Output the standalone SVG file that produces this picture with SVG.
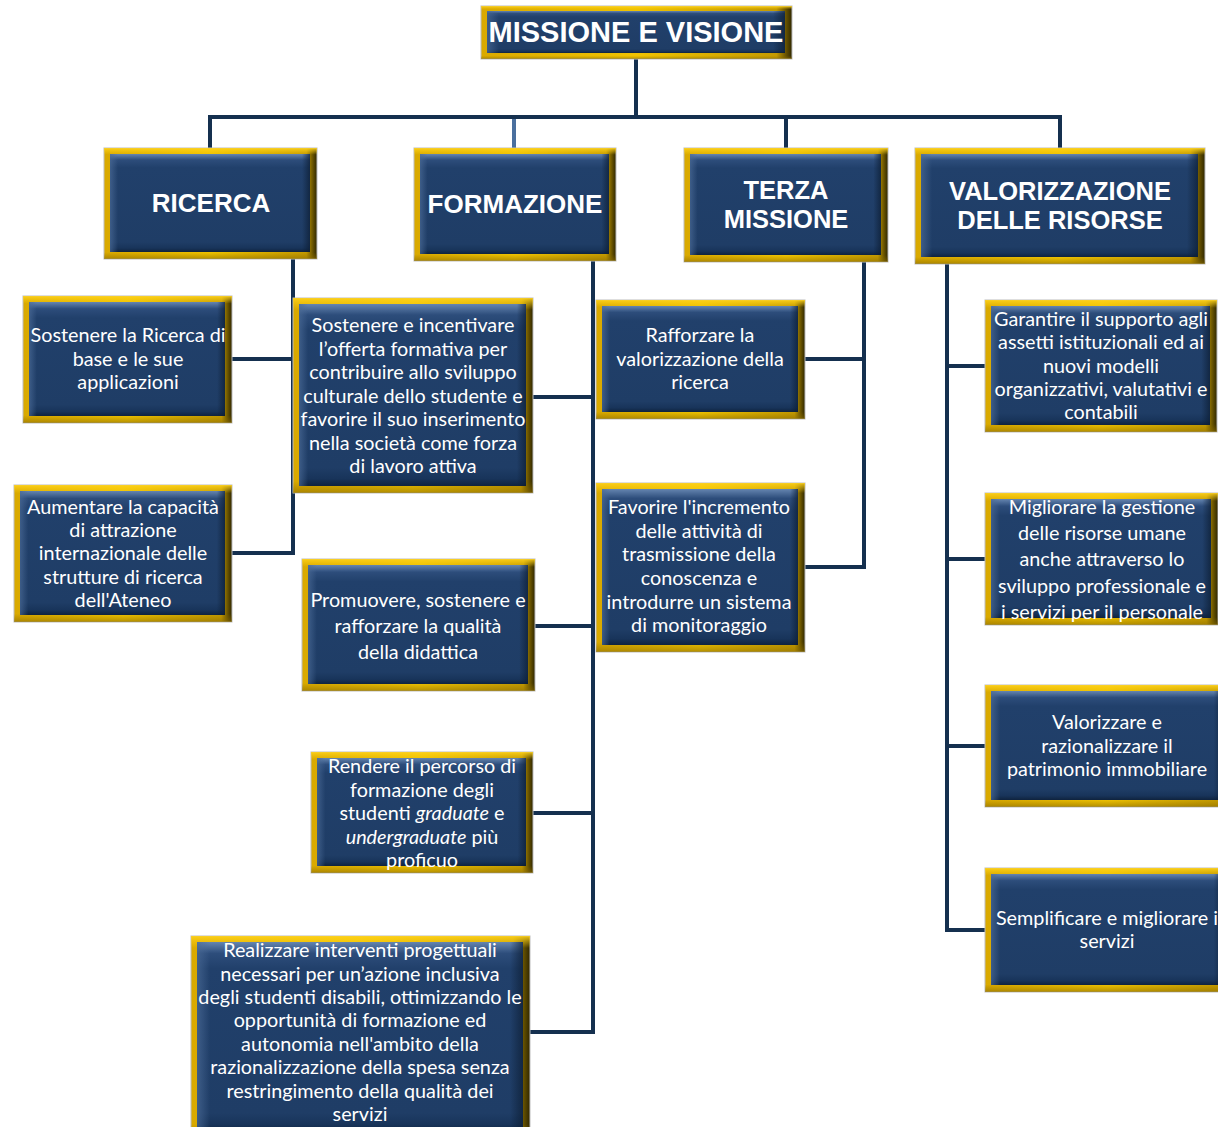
<svg xmlns="http://www.w3.org/2000/svg" width="1218" height="1127" viewBox="0 0 1218 1127">
<defs>
<linearGradient id="gold" x1="0" y1="0" x2="1" y2="0">
<stop offset="0" stop-color="#d9a900"/>
<stop offset="0.5" stop-color="#f0c300"/>
<stop offset="0.95" stop-color="#c49a00"/>
<stop offset="0.985" stop-color="#5a4800"/>
<stop offset="1" stop-color="#2e2600"/>
</linearGradient>
<linearGradient id="goldv" x1="0" y1="0" x2="0" y2="1">
<stop offset="0" stop-color="#ffd21a" stop-opacity="0.9"/>
<stop offset="0.06" stop-color="#ffd21a" stop-opacity="0"/>
<stop offset="0.94" stop-color="#8a6c00" stop-opacity="0"/>
<stop offset="1" stop-color="#8a6c00" stop-opacity="0.6"/>
</linearGradient>
<linearGradient id="blue" x1="0" y1="0" x2="0" y2="1">
<stop offset="0" stop-color="#6585b0"/>
<stop offset="0.06" stop-color="#2d4d7b"/>
<stop offset="0.14" stop-color="#21406b"/>
<stop offset="0.9" stop-color="#1f3d66"/>
<stop offset="0.96" stop-color="#18345a"/>
<stop offset="1" stop-color="#0f233e"/>
</linearGradient>
<linearGradient id="blueh" x1="0" y1="0" x2="1" y2="0">
<stop offset="0" stop-color="#4a6a96" stop-opacity="0.7"/>
<stop offset="0.04" stop-color="#4a6a96" stop-opacity="0"/>
<stop offset="0.96" stop-color="#0c1d33" stop-opacity="0"/>
<stop offset="1" stop-color="#0c1d33" stop-opacity="0.7"/>
</linearGradient>
</defs>
<style>
.frame{fill:url(#gold);stroke:#bdbdbd;stroke-width:1}
.frame2{fill:url(#goldv)}
.face{fill:url(#blue)}
.face2{fill:url(#blueh)}
.hd{font-family:"Liberation Sans",Arial,sans-serif;font-weight:bold;fill:#ffffff;text-anchor:middle}
.tx{font-family:Lato,"Open Sans",sans-serif;font-size:19.8px;fill:#ffffff;text-anchor:middle}
.ln{fill:none;stroke:#15304f;stroke-width:4;stroke-linejoin:miter}
.ln2{fill:none;stroke:#4a6f9e;stroke-width:4}
</style>
<rect width="1218" height="1127" fill="#ffffff"/>

<g id="connectors">
<path class="ln" d="M636 59 V117 M208 117 H1062 M210 117 V148 M786 117 V148 M1060 117 V148"/>
<path class="ln2" d="M514 119 V148"/>
<path class="ln" d="M293 259 V553 H232 M232 359 H293"/>
<path class="ln" d="M593 261 V1032 H530 M533 397 H593 M535 626 H593 M533 813 H593"/>
<path class="ln" d="M864 262 V567 H805 M805 359 H864"/>
<path class="ln" d="M947 264 V930 H985 M947 366 H985 M947 559 H985 M947 746 H985"/>
</g>

<g id="n-missione">
<rect class="frame" x="481" y="6" width="311" height="53"/><rect class="frame2" x="481" y="6" width="311" height="53"/>
<rect class="face" x="487" y="11" width="298" height="42"/><rect class="face2" x="487" y="11" width="298" height="42"/>
<text class="hd" x="636" y="42" font-size="29">MISSIONE E VISIONE</text>
</g>

<g id="n-ricerca">
<rect class="frame" x="104" y="148" width="213" height="111"/><rect class="frame2" x="104" y="148" width="213" height="111"/>
<rect class="face" x="110" y="154" width="200" height="98"/><rect class="face2" x="110" y="154" width="200" height="98"/>
<text class="hd" x="211" y="212" font-size="26">RICERCA</text>
</g>

<g id="n-formazione">
<rect class="frame" x="414" y="148" width="202" height="113"/><rect class="frame2" x="414" y="148" width="202" height="113"/>
<rect class="face" x="420" y="154" width="189" height="100"/><rect class="face2" x="420" y="154" width="189" height="100"/>
<text class="hd" x="515" y="213" font-size="26">FORMAZIONE</text>
</g>

<g id="n-terza">
<rect class="frame" x="684" y="148" width="204" height="114"/><rect class="frame2" x="684" y="148" width="204" height="114"/>
<rect class="face" x="690" y="154" width="191" height="101"/><rect class="face2" x="690" y="154" width="191" height="101"/>
<text class="hd" x="786" y="199" font-size="25.5">TERZA</text>
<text class="hd" x="786" y="228" font-size="25.5">MISSIONE</text>
</g>

<g id="n-valorizzazione">
<rect class="frame" x="915" y="148" width="290" height="116"/><rect class="frame2" x="915" y="148" width="290" height="116"/>
<rect class="face" x="921" y="154" width="277" height="103"/><rect class="face2" x="921" y="154" width="277" height="103"/>
<text class="hd" x="1060" y="200" font-size="25.5">VALORIZZAZIONE</text>
<text class="hd" x="1060" y="229" font-size="25.5">DELLE RISORSE</text>
</g>

<g id="n-ric1">
<rect class="frame" x="23" y="296" width="209" height="127"/><rect class="frame2" x="23" y="296" width="209" height="127"/>
<rect class="face" x="29" y="302" width="196" height="114"/><rect class="face2" x="29" y="302" width="196" height="114"/>
<text class="tx" x="128" y="342">Sostenere la Ricerca di</text>
<text class="tx" x="128" y="366">base e le sue</text>
<text class="tx" x="128" y="389">applicazioni</text>
</g>

<g id="n-ric2">
<rect class="frame" x="14" y="485" width="218" height="137"/><rect class="frame2" x="14" y="485" width="218" height="137"/>
<rect class="face" x="20" y="491" width="205" height="124"/><rect class="face2" x="20" y="491" width="205" height="124"/>
<text class="tx" x="123" y="514">Aumentare la capacità</text>
<text class="tx" x="123" y="537">di attrazione</text>
<text class="tx" x="123" y="560">internazionale delle</text>
<text class="tx" x="123" y="584">strutture di ricerca</text>
<text class="tx" x="123" y="607">dell'Ateneo</text>
</g>

<g id="n-for1">
<rect class="frame" x="293" y="298" width="240" height="195"/><rect class="frame2" x="293" y="298" width="240" height="195"/>
<rect class="face" x="299" y="304" width="227" height="182"/><rect class="face2" x="299" y="304" width="227" height="182"/>
<text class="tx" x="413" y="332">Sostenere e incentivare</text>
<text class="tx" x="413" y="356">l’offerta formativa per</text>
<text class="tx" x="413" y="379">contribuire allo sviluppo</text>
<text class="tx" x="413" y="403">culturale dello studente e</text>
<text class="tx" x="413" y="426">favorire il suo inserimento</text>
<text class="tx" x="413" y="450">nella società come forza</text>
<text class="tx" x="413" y="473">di lavoro attiva</text>
</g>

<g id="n-for2">
<rect class="frame" x="302" y="559" width="233" height="132"/><rect class="frame2" x="302" y="559" width="233" height="132"/>
<rect class="face" x="308" y="565" width="220" height="119"/><rect class="face2" x="308" y="565" width="220" height="119"/>
<text class="tx" x="418" y="607">Promuovere, sostenere e</text>
<text class="tx" x="418" y="633">rafforzare la qualità</text>
<text class="tx" x="418" y="659">della didattica</text>
</g>

<g id="n-for3">
<rect class="frame" x="311" y="752" width="222" height="121"/><rect class="frame2" x="311" y="752" width="222" height="121"/>
<rect class="face" x="317" y="758" width="209" height="108"/><rect class="face2" x="317" y="758" width="209" height="108"/>
<text class="tx" x="422" y="773">Rendere il percorso di</text>
<text class="tx" x="422" y="797">formazione degli</text>
<text class="tx" x="422" y="820">studenti <tspan font-style="italic">graduate</tspan> e</text>
<text class="tx" x="422" y="844"><tspan font-style="italic">undergraduate</tspan> più</text>
<text class="tx" x="422" y="867">proficuo</text>
</g>

<g id="n-for4">
<rect class="frame" x="191" y="936" width="339" height="200"/><rect class="frame2" x="191" y="936" width="339" height="200"/>
<rect class="face" x="197" y="942" width="326" height="190"/><rect class="face2" x="197" y="942" width="326" height="190"/>
<text class="tx" x="360" y="957">Realizzare interventi progettuali</text>
<text class="tx" x="360" y="981">necessari per un’azione inclusiva</text>
<text class="tx" x="360" y="1004">degli studenti disabili, ottimizzando le</text>
<text class="tx" x="360" y="1027">opportunità di formazione ed</text>
<text class="tx" x="360" y="1051">autonomia nell'ambito della</text>
<text class="tx" x="360" y="1074">razionalizzazione della spesa senza</text>
<text class="tx" x="360" y="1098">restringimento della qualità dei</text>
<text class="tx" x="360" y="1121">servizi</text>
</g>

<g id="n-ter1">
<rect class="frame" x="596" y="300" width="209" height="119"/><rect class="frame2" x="596" y="300" width="209" height="119"/>
<rect class="face" x="602" y="306" width="196" height="106"/><rect class="face2" x="602" y="306" width="196" height="106"/>
<text class="tx" x="700" y="342">Rafforzare la</text>
<text class="tx" x="700" y="366">valorizzazione della</text>
<text class="tx" x="700" y="389">ricerca</text>
</g>

<g id="n-ter2">
<rect class="frame" x="596" y="483" width="209" height="169"/><rect class="frame2" x="596" y="483" width="209" height="169"/>
<rect class="face" x="602" y="489" width="196" height="156"/><rect class="face2" x="602" y="489" width="196" height="156"/>
<text class="tx" x="699" y="514">Favorire l'incremento</text>
<text class="tx" x="699" y="538">delle attività di</text>
<text class="tx" x="699" y="561">trasmissione della</text>
<text class="tx" x="699" y="585">conoscenza e</text>
<text class="tx" x="699" y="609">introdurre un sistema</text>
<text class="tx" x="699" y="632">di monitoraggio</text>
</g>

<g id="n-val1">
<rect class="frame" x="985" y="300" width="232" height="132"/><rect class="frame2" x="985" y="300" width="232" height="132"/>
<rect class="face" x="991" y="306" width="219" height="119"/><rect class="face2" x="991" y="306" width="219" height="119"/>
<text class="tx" x="1101" y="326">Garantire il supporto agli</text>
<text class="tx" x="1101" y="349">assetti istituzionali  ed ai</text>
<text class="tx" x="1101" y="373">nuovi  modelli</text>
<text class="tx" x="1101" y="396">organizzativi, valutativi e</text>
<text class="tx" x="1101" y="419">contabili</text>
</g>

<g id="n-val2">
<rect class="frame" x="985" y="493" width="233" height="132"/><rect class="frame2" x="985" y="493" width="233" height="132"/>
<rect class="face" x="991" y="499" width="220" height="119"/><rect class="face2" x="991" y="499" width="220" height="119"/>
<text class="tx" x="1102" y="514">Migliorare la gestione</text>
<text class="tx" x="1102" y="540">delle risorse umane</text>
<text class="tx" x="1102" y="566">anche attraverso lo</text>
<text class="tx" x="1102" y="593">sviluppo professionale e</text>
<text class="tx" x="1102" y="619">i servizi per il personale</text>
</g>

<g id="n-val3">
<rect class="frame" x="985" y="685" width="245" height="122"/><rect class="frame2" x="985" y="685" width="245" height="122"/>
<rect class="face" x="991" y="691" width="232" height="109"/><rect class="face2" x="991" y="691" width="232" height="109"/>
<text class="tx" x="1107" y="729">Valorizzare  e</text>
<text class="tx" x="1107" y="753">razionalizzare il</text>
<text class="tx" x="1107" y="776">patrimonio immobiliare</text>
</g>

<g id="n-val4">
<rect class="frame" x="985" y="868" width="245" height="124"/><rect class="frame2" x="985" y="868" width="245" height="124"/>
<rect class="face" x="991" y="874" width="232" height="111"/><rect class="face2" x="991" y="874" width="232" height="111"/>
<text class="tx" x="1107" y="925">Semplificare e migliorare i</text>
<text class="tx" x="1107" y="948">servizi</text>
</g>
</svg>
